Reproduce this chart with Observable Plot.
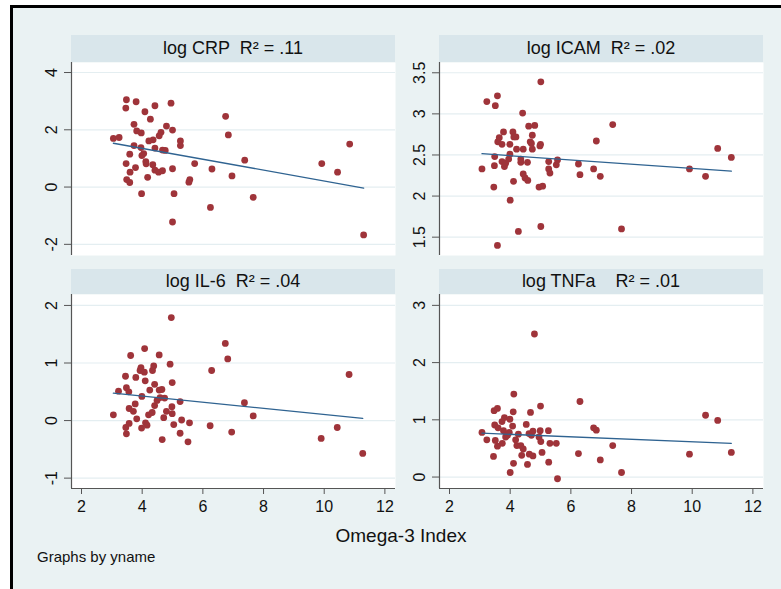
<!DOCTYPE html>
<html>
<head>
<meta charset="utf-8">
<script src="https://cdn.jsdelivr.net/npm/d3@7"></script>
<script src="https://cdn.jsdelivr.net/npm/@observablehq/plot@0.6"></script>
<style>
  html, body { margin: 0; padding: 0; background: #ffffff; overflow: hidden; }
  body { width: 781px; height: 589px; position: relative; font-family: "Liberation Sans", Arial, Helvetica, sans-serif; }
  #outer { position: absolute; left: 10px; top: 5px; width: 800px; height: 620px; border-left: 3px solid #000; border-top: 3px solid #000; background: #eaf2f3; }
  .hdr { position: absolute; background: #d9e6eb; color: #111; font-size: 18px; text-align: center; white-space: pre; display: flex; align-items: center; justify-content: center; }
  .panel { position: absolute; }
  #xtitle { position: absolute; left: 301px; width: 200px; top: 525px; text-align: center; font-size: 19px; color: #111; }
  #note { position: absolute; left: 37px; top: 548px; font-size: 15px; color: #111; }
</style>
</head>
<body>
<div id="outer"></div>
<div id="root"></div>
<div id="xtitle">Omega-3 Index</div>
<div id="note">Graphs by yname</div>
<script>
// ---- data ----
const panelNames = ["log CRP", "log ICAM", "log IL-6", "log TNFa"];
const panelR2 = [".11", ".02", ".04", ".01"];
const xTicks = [2, 4, 6, 8, 10, 12];
const crpTicks = [-2, 0, 2, 4];
const icamTicks = [1.5, 2, 2.5, 3, 3.5];
const il6Ticks = [-1, 0, 1, 2];
const tnfTicks = [0, 1, 2, 3];

const crpX = [3.05,3.24,3.48,3.46,3.80,4.09,4.42,4.95,4.27,3.73,3.82,3.97,4.80,5.00,4.62,4.56,4.36,4.22,5.26,5.26,3.73,3.96,4.42,4.67,4.76,3.59,4.05,3.99,3.47,4.12,4.13,4.35,3.78,3.60,4.42,4.54,4.67,5.00,4.18,3.49,3.59,3.98,5.05,5.00,5.54,5.57,5.73,6.30,6.25,6.75,6.84,6.96,7.38,7.66,9.92,10.44,10.84,11.30];
const crpY = [1.70,1.73,3.05,2.76,2.98,2.63,2.84,2.93,2.37,2.19,1.96,1.89,2.13,1.99,1.91,1.79,1.65,1.61,1.61,1.45,1.45,1.38,1.36,1.29,1.28,1.15,1.17,1.10,0.82,0.89,0.81,0.78,0.68,0.52,0.59,0.52,0.57,0.64,0.34,0.26,0.16,-0.23,-0.23,-1.22,0.17,0.26,0.82,0.63,-0.71,2.47,1.82,0.39,0.94,-0.36,0.82,0.52,1.50,-1.67];

const icamX = [3.07,3.23,3.51,3.58,3.46,3.48,3.49,3.58,3.59,3.64,3.73,3.78,3.73,3.81,3.85,3.95,3.99,3.99,4.00,4.11,4.09,4.12,4.19,4.21,4.27,4.35,4.35,4.41,4.43,4.43,4.49,4.57,4.58,4.61,4.66,4.70,4.73,4.73,4.81,4.95,4.98,5.00,5.01,5.01,5.07,5.27,5.27,5.31,5.52,5.56,6.25,6.30,6.75,6.84,6.97,7.38,7.67,9.91,10.44,10.84,11.29];
const icamY = [2.33,3.15,3.10,3.22,2.11,2.37,2.48,1.40,2.66,2.71,2.63,2.78,2.42,2.36,2.40,2.45,2.51,2.63,1.95,2.18,2.78,2.72,2.72,2.57,1.57,2.41,2.45,3.01,2.57,2.27,2.22,2.41,2.19,2.85,2.66,2.64,2.74,2.57,2.86,2.11,2.61,2.63,3.39,1.63,2.12,2.42,2.33,2.28,2.38,2.44,2.39,2.26,2.33,2.67,2.24,2.87,1.60,2.33,2.24,2.58,2.47];

const il6X = [3.05,3.22,3.45,3.48,3.56,3.46,3.48,3.57,3.57,3.62,3.71,3.77,3.79,3.82,3.96,3.93,3.99,3.98,4.07,4.08,4.10,4.11,4.16,4.21,4.25,4.33,4.34,4.38,4.41,4.41,4.49,4.56,4.56,4.65,4.59,4.66,4.71,4.74,4.80,4.92,4.96,4.98,4.99,4.99,5.04,5.25,5.25,5.30,5.51,5.56,6.24,6.29,6.74,6.82,6.95,7.37,7.66,9.90,10.43,10.82,11.27];
const il6Y = [0.10,0.51,0.77,0.57,0.50,-0.12,-0.23,-0.05,0.21,1.13,0.16,0.29,0.75,0.03,0.92,0.87,0.42,-0.13,0.84,1.25,0.69,-0.04,-0.08,0.10,0.53,0.14,0.87,0.95,0.63,0.26,0.35,1.14,0.53,0.54,0.40,-0.33,0.05,0.39,0.16,0.98,1.79,0.24,0.66,0.12,-0.07,0.33,-0.22,0.01,-0.37,-0.04,-0.09,0.87,1.34,1.07,-0.20,0.31,0.08,-0.31,-0.12,0.80,-0.57];

const tnfX = [3.07,3.23,3.45,3.47,3.58,3.49,3.51,3.58,3.60,3.73,3.74,3.78,3.81,3.85,3.91,3.97,3.99,4.00,4.08,4.10,4.12,4.11,4.18,4.22,4.27,4.35,4.38,4.43,4.53,4.57,4.62,4.63,4.67,4.70,4.75,4.75,4.80,4.95,4.99,5.00,5.01,5.05,5.26,5.27,5.31,5.52,5.56,6.25,6.30,6.75,6.84,6.97,7.38,7.67,9.91,10.44,10.84,11.29];
const tnfY = [0.78,0.65,0.36,1.16,1.20,0.91,0.64,0.54,0.86,0.97,0.59,0.81,1.04,0.70,0.73,0.78,1.01,0.08,0.89,1.14,1.45,0.24,0.65,0.55,0.75,0.55,0.38,0.49,0.92,0.22,0.76,0.40,1.13,0.73,0.80,0.37,2.50,0.70,0.81,1.24,0.62,0.43,0.81,0.26,0.59,0.59,-0.03,0.41,1.32,0.86,0.82,0.30,0.55,0.08,0.40,1.08,0.99,0.43];

// ---- layout ----
const xDomain = [1.67, 12.35];
const panels = [
  {name: panelNames[0], r2: panelR2[0], sep: "  ", xs: crpX, ys: crpY, ticks: crpTicks, yDomain: [-2.39, 4.35], left: 71, top: 62, w: 324, h: 193, hdrTop: 35, bottomAxis: false},
  {name: panelNames[1], r2: panelR2[1], sep: "  ", xs: icamX, ys: icamY, ticks: icamTicks, yDomain: [1.277, 3.625], left: 439, top: 62, w: 324, h: 193, hdrTop: 35, bottomAxis: false},
  {name: panelNames[2], r2: panelR2[2], sep: "  ", xs: il6X, ys: il6Y, ticks: il6Ticks, yDomain: [-1.18, 2.19], left: 71, top: 294, w: 324, h: 194, hdrTop: 269, bottomAxis: true},
  {name: panelNames[3], r2: panelR2[3], sep: "    ", xs: tnfX, ys: tnfY, ticks: tnfTicks, yDomain: [-0.2, 3.19], left: 439, top: 294, w: 324, h: 194, hdrTop: 269, bottomAxis: true}
];

const root = document.getElementById("root");
const ML = 40, MB = 40;
const dotColor = "#9f343a";
const lineColor = "#2f6391";
const axisColor = "#555";

panels.forEach(p => {
  const hdr = document.createElement("div");
  hdr.className = "hdr";
  hdr.style.left = p.left + "px";
  hdr.style.top = p.hdrTop + "px";
  hdr.style.width = p.w + "px";
  hdr.style.height = (p.top - p.hdrTop) + "px";
  hdr.textContent = p.name + p.sep + "R\u00B2 = " + p.r2;
  root.appendChild(hdr);

  const data = p.xs.map((x, i) => ({x, y: p.ys[i]}));
  const mb = p.bottomAxis ? MB : 0;
  const marks = [
    Plot.frame({fill: "white", stroke: "none"}),
    Plot.gridY(p.ticks, {stroke: "#e4eef1", strokeOpacity: 1, strokeWidth: 1.2}),
    Plot.ruleX([xDomain[0]], {stroke: axisColor, strokeWidth: 1.2}),
    Plot.axisY(p.ticks, {tickSize: 7, tickPadding: 8, tickRotate: -90, stroke: axisColor, fontSize: 16, fill: "#111", tickFormat: d => String(d), label: null}),
    Plot.dot(data, {x: "x", y: "y", r: 3.4, fill: dotColor, stroke: "none"}),
    Plot.linearRegressionY(data, {x: "x", y: "y", ci: 0, stroke: lineColor, strokeWidth: 1.3})
  ];
  if (p.bottomAxis) {
    marks.push(Plot.ruleY([p.yDomain[0]], {stroke: axisColor, strokeWidth: 1.2}));
    marks.push(Plot.axisX(xTicks, {tickSize: 6, tickPadding: 6, stroke: axisColor, fontSize: 16, fill: "#111", label: null}));
  } else {
    marks.push(Plot.axisX([], {label: null}));
  }
  const chart = Plot.plot({
    width: ML + p.w,
    height: p.h + mb,
    marginLeft: ML, marginRight: 0, marginTop: 0, marginBottom: mb,
    style: {background: "transparent", fontFamily: "'Liberation Sans', Arial, sans-serif", fontSize: "16px", overflow: "visible"},
    x: {domain: xDomain, nice: false},
    y: {domain: p.yDomain, nice: false},
    marks
  });
  const wrap = document.createElement("div");
  wrap.className = "panel";
  wrap.style.left = (p.left - ML) + "px";
  wrap.style.top = p.top + "px";
  wrap.appendChild(chart);
  root.appendChild(wrap);
});
</script>
</body>
</html>
